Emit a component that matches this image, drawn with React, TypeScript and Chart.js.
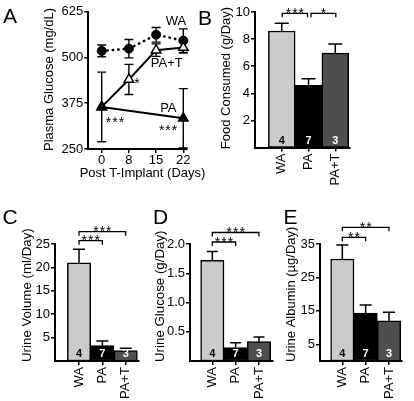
import React, { useEffect, useRef } from 'react';
import { Chart, registerables } from 'chart.js';

Chart.register(...registerables);

const FONT = '"Liberation Sans", Arial, Helvetica, sans-serif';
const W = 414;
const H = 401;

// ---------- Panel A: plasma glucose over time ----------
const daysA = ['0', '8', '15', '22'];
const dayIndexA = [0, 1, 2, 3];
const glucoseTicksA = [250, 375, 500, 625];
const waGlucose = [518, 524, 562, 546];
const waGlucoseSem = [16, 25, 20, 32];
const patGlucose = [365, 440, 520, 527];
const patGlucoseSem = [0, 41, 17, 15];
const paGlucoseIdx = [0, 3];
const paGlucose = [365, 334];
const paGlucoseSem = [95, 81];

// ---------- Panels B-E: group bars ----------
const groups = ['WA', 'PA', 'PA+T'];
const groupN = [4, 7, 3];
const groupColors = ['#cbcbcb', '#000000', '#4f4f4f'];
const numberColors = ['#000000', '#ffffff', '#ffffff'];

const foodConsumed = [8.6, 4.58, 6.97];
const foodSem = [0.57, 0.49, 0.66];
const foodTicks = [2, 4, 6, 8, 10];

const urineVolume = [21.0, 3.27, 2.2];
const urineVolumeSem = [2.9, 1.0, 0.5];
const urineVolumeTicks = [5, 10, 15, 20, 25];

const urineGlucose = [1.72, 0.23, 0.33];
const urineGlucoseSem = [0.15, 0.08, 0.08];
const urineGlucoseTicks = [0.5, 1.0, 1.5, 2.0];

const urineAlbumin = [30.5, 14.3, 12.0];
const urineAlbuminSem = [4.2, 2.45, 2.6];
const urineAlbuminTicks = [5, 15, 25, 35];

interface Area { left: number; top: number; right: number; bottom: number }
interface Bracket { from: number; to: number; text: string; dy: number; insetL?: number; insetR?: number }
interface YTitle { text: string; x: number; y: number; align: 'left' | 'center'; size: number }
interface BarSpec {
  values: number[];
  sem: number[];
  yMax: number;
  yTicks: number[];
  decimals: number;
  title: YTitle;
  area: Area;
  xMin: number;
  xMax: number;
  capW: number;
  brackets: Bracket[];
}

const axisGrid = {
  display: true,
  drawOnChartArea: false,
  drawTicks: true,
  tickLength: 4,
  color: '#000',
  lineWidth: 1.5,
  offset: false,
};
const axisBorder = { display: true, color: '#000', width: 2 };
const tickFont = { family: FONT, size: 13 };

function drawStars(ctx: CanvasRenderingContext2D, text: string, x: number, baseline: number) {
  ctx.save();
  ctx.font = `14px ${FONT}`;
  (ctx as any).letterSpacing = '1px';
  ctx.textAlign = 'center';
  ctx.textBaseline = 'alphabetic';
  ctx.fillStyle = '#000';
  ctx.fillText(text, x + 0.5, baseline);
  ctx.restore();
}

function drawYTitle(ctx: CanvasRenderingContext2D, t: YTitle) {
  ctx.save();
  ctx.translate(t.x, t.y);
  ctx.rotate(-Math.PI / 2);
  ctx.font = `${t.size}px ${FONT}`;
  ctx.fillStyle = '#000';
  ctx.textAlign = t.align;
  ctx.textBaseline = 'middle';
  ctx.fillText(t.text, 0, 0);
  ctx.restore();
}

function barDecor(spec: BarSpec) {
  return {
    id: 'barDecor',
    afterDatasetsDraw(chart: any) {
      const ctx: CanvasRenderingContext2D = chart.ctx;
      const xs = chart.scales.x;
      const ys = chart.scales.y;
      const meta = chart.getDatasetMeta(0);
      ctx.save();
      ctx.strokeStyle = '#000';
      ctx.lineWidth = 1.5;
      meta.data.forEach((bar: any, i: number) => {
        const x = bar.x;
        const yTop = bar.y;
        const yErr = ys.getPixelForValue(spec.values[i] + spec.sem[i]);
        ctx.beginPath();
        ctx.moveTo(x, yTop);
        ctx.lineTo(x, yErr);
        ctx.moveTo(x - spec.capW / 2, yErr);
        ctx.lineTo(x + spec.capW / 2, yErr);
        ctx.stroke();
        ctx.font = `bold 11px ${FONT}`;
        ctx.textAlign = 'center';
        ctx.textBaseline = 'middle';
        ctx.fillStyle = numberColors[i];
        ctx.fillText(String(groupN[i]), x, ys.bottom - 7);
      });
      ctx.lineWidth = 1.3;
      spec.brackets.forEach((b) => {
        const x1 = xs.getPixelForValue(b.from) + (b.insetL || 0);
        const x2 = xs.getPixelForValue(b.to) - (b.insetR || 0);
        const y = chart.chartArea.top + b.dy;
        ctx.beginPath();
        ctx.moveTo(x1, y + 4);
        ctx.lineTo(x1, y);
        ctx.lineTo(x2, y);
        ctx.lineTo(x2, y + 4);
        ctx.stroke();
        drawStars(ctx, b.text, (x1 + x2) / 2, y + 4.5);
      });
      ctx.restore();
      drawYTitle(ctx, spec.title);
    },
  };
}

function makeBarChart(canvas: HTMLCanvasElement, spec: BarSpec) {
  const yWidth = 36;
  const padLeft = spec.area.left - yWidth;
  return new Chart(canvas, {
    type: 'bar',
    data: {
      datasets: [
        {
          data: spec.values.map((v, i) => ({ x: i, y: v })),
          backgroundColor: groupColors,
          borderColor: '#000',
          borderWidth: 1.5,
          borderSkipped: false,
          barPercentage: 1,
          categoryPercentage: 1,
        } as any,
      ],
    },
    options: {
      responsive: false,
      animation: false,
      devicePixelRatio: 1,
      events: [],
      layout: { padding: { left: padLeft, top: spec.area.top, right: W - spec.area.right, bottom: 0 } },
      plugins: { legend: { display: false }, tooltip: { enabled: false } },
      scales: {
        x: {
          type: 'linear',
          min: spec.xMin,
          max: spec.xMax,
          offset: false,
          afterBuildTicks: (s: any) => {
            s.ticks = groups.map((_, i) => ({ value: i }));
          },
          afterFit: (s: any) => {
            s.height = H - spec.area.bottom;
          },
          ticks: {
            autoSkip: false,
            minRotation: 90,
            maxRotation: 90,
            padding: 2,
            color: '#000',
            font: tickFont,
            callback: (v: any) => groups[Math.round(Number(v))],
          },
          grid: axisGrid,
          border: axisBorder,
        },
        y: {
          type: 'linear',
          min: 0,
          max: spec.yMax,
          afterBuildTicks: (s: any) => {
            s.ticks = spec.yTicks.map((v) => ({ value: v }));
          },
          afterFit: (s: any) => {
            s.width = yWidth;
          },
          ticks: {
            padding: 1,
            color: '#000',
            font: tickFont,
            callback: (v: any) => Number(v).toFixed(spec.decimals),
          },
          grid: axisGrid,
          border: axisBorder,
        },
      },
    } as any,
    plugins: [barDecor(spec)],
  });
}

// annotations of panel A, in data units
const labelsA = [
  { text: 'WA', x: 2.73, y: 598 },
  { text: 'PA+T', x: 2.39, y: 484 },
  { text: 'PA', x: 2.45, y: 361 },
];
const starsA = [
  { text: '***', x: 0.49, y: 332 },
  { text: '***', x: 2.44, y: 311 },
  { text: '*', x: 1.3, y: 438 },
];

function makeLineChart(canvas: HTMLCanvasElement) {
  const area: Area = { left: 88.3, top: 11.7, right: 187, bottom: 149 };
  const yWidth = 40;
  const padLeft = area.left - yWidth;
  const scaleBottom = 178;
  const yTitle: YTitle = { text: 'Plasma Glucose (mg/dL)', x: 49, y: 79.5, align: 'center', size: 13 };
  const xTitle = { text: 'Post T-Implant (Days)', x: 142.5, y: 173, size: 13 };
  const errSeries = [
    { xs: dayIndexA, ys: waGlucose, sem: waGlucoseSem },
    { xs: dayIndexA, ys: patGlucose, sem: patGlucoseSem },
    { xs: paGlucoseIdx, ys: paGlucose, sem: paGlucoseSem },
  ];
  const decor = {
    id: 'lineDecor',
    beforeDatasetsDraw(chart: any) {
      const ctx: CanvasRenderingContext2D = chart.ctx;
      const xs = chart.scales.x;
      const ys = chart.scales.y;
      ctx.save();
      ctx.strokeStyle = '#000';
      ctx.lineWidth = 1.4;
      errSeries.forEach((s) => {
        s.xs.forEach((xi, i) => {
          if (!s.sem[i]) return;
          const x = xs.getPixelForValue(xi);
          const y1 = ys.getPixelForValue(s.ys[i] + s.sem[i]);
          const y2 = ys.getPixelForValue(s.ys[i] - s.sem[i]);
          ctx.beginPath();
          ctx.moveTo(x, y1);
          ctx.lineTo(x, y2);
          ctx.moveTo(x - 4.5, y1);
          ctx.lineTo(x + 4.5, y1);
          ctx.moveTo(x - 4.5, y2);
          ctx.lineTo(x + 4.5, y2);
          ctx.stroke();
        });
      });
      ctx.restore();
    },
    afterDatasetsDraw(chart: any) {
      const ctx: CanvasRenderingContext2D = chart.ctx;
      const xs = chart.scales.x;
      const ys = chart.scales.y;
      ctx.save();
      ctx.fillStyle = '#000';
      ctx.font = `13px ${FONT}`;
      ctx.textAlign = 'center';
      ctx.textBaseline = 'middle';
      labelsA.forEach((l) => {
        ctx.fillText(l.text, xs.getPixelForValue(l.x), ys.getPixelForValue(l.y));
      });
      ctx.font = `${xTitle.size}px ${FONT}`;
      ctx.fillText(xTitle.text, xTitle.x, xTitle.y);
      ctx.restore();
      starsA.forEach((s) => {
        drawStars(ctx, s.text, xs.getPixelForValue(s.x), ys.getPixelForValue(s.y) + 8);
      });
      drawYTitle(ctx, yTitle);
    },
  };
  return new Chart(canvas, {
    type: 'line',
    data: {
      datasets: [
        {
          label: 'PA',
          data: paGlucoseIdx.map((x, i) => ({ x, y: paGlucose[i] })),
          borderColor: '#000',
          borderWidth: 2,
          pointStyle: 'triangle',
          pointRadius: 5.5,
          pointBackgroundColor: '#000',
          pointBorderColor: '#000',
          pointBorderWidth: 1.5,
          clip: false,
        },
        {
          label: 'PA+T',
          data: dayIndexA.map((x, i) => ({ x, y: patGlucose[i] })),
          borderColor: '#000',
          borderWidth: 2,
          pointStyle: 'triangle',
          pointRadius: 5.5,
          pointBackgroundColor: '#fff',
          pointBorderColor: '#000',
          pointBorderWidth: 1.5,
          clip: false,
        },
        {
          label: 'WA',
          data: dayIndexA.map((x, i) => ({ x, y: waGlucose[i] })),
          borderColor: '#000',
          borderWidth: 2.5,
          borderDash: [0.5, 5],
          borderCapStyle: 'round',
          pointStyle: 'circle',
          pointRadius: 4.5,
          pointBackgroundColor: '#000',
          pointBorderColor: '#000',
          pointBorderWidth: 1,
          clip: false,
        },
      ] as any,
    },
    options: {
      responsive: false,
      animation: false,
      devicePixelRatio: 1,
      events: [],
      layout: { padding: { left: padLeft, top: area.top, right: W - area.right, bottom: H - scaleBottom } },
      plugins: { legend: { display: false }, tooltip: { enabled: false } },
      scales: {
        x: {
          type: 'linear',
          min: -0.493,
          max: 3.136,
          afterBuildTicks: (s: any) => {
            s.ticks = dayIndexA.map((v) => ({ value: v }));
          },
          afterFit: (s: any) => {
            s.height = scaleBottom - area.bottom;
          },
          ticks: {
            autoSkip: false,
            maxRotation: 0,
            padding: 0,
            color: '#000',
            font: tickFont,
            callback: (v: any) => daysA[Math.round(Number(v))],
          },
          grid: axisGrid,
          border: axisBorder,
        },
        y: {
          type: 'linear',
          min: 250,
          max: 625,
          afterBuildTicks: (s: any) => {
            s.ticks = glucoseTicksA.map((v) => ({ value: v }));
          },
          afterFit: (s: any) => {
            s.width = yWidth;
          },
          ticks: { padding: 1, color: '#000', font: tickFont },
          grid: axisGrid,
          border: axisBorder,
        },
      },
    } as any,
    plugins: [decor],
  });
}

const specB: BarSpec = {
  values: foodConsumed,
  sem: foodSem,
  yMax: 10,
  yTicks: foodTicks,
  decimals: 0,
  title: { text: 'Food Consumed (g/Day)', x: 226.5, y: 78, align: 'center', size: 13 },
  area: { left: 255, top: 12, right: 350, bottom: 147.5 },
  xMin: -1.0,
  xMax: 2.55,
  capW: 14,
  brackets: [
    { from: 0, to: 1, text: '***', dy: 1.3, insetL: 0.5, insetR: 1 },
    { from: 1, to: 2, text: '*', dy: 1.3, insetL: 2.5, insetR: -0.5 },
  ],
};

const specC: BarSpec = {
  values: urineVolume,
  sem: urineVolumeSem,
  yMax: 25,
  yTicks: urineVolumeTicks,
  decimals: 0,
  title: { text: 'Urine Volume (ml/Day)', x: 27.5, y: 362, align: 'left', size: 13.3 },
  area: { left: 55, top: 244, right: 139, bottom: 361 },
  xMin: -1.03,
  xMax: 2.57,
  capW: 12,
  brackets: [
    { from: 0, to: 1, text: '***', dy: -3.3 },
    { from: 0, to: 2, text: '***', dy: -12.3 },
  ],
};

const specD: BarSpec = {
  values: urineGlucose,
  sem: urineGlucoseSem,
  yMax: 2.0,
  yTicks: urineGlucoseTicks,
  decimals: 1,
  title: { text: 'Urine Glucose (g/Day)', x: 160.5, y: 362, align: 'left', size: 13.3 },
  area: { left: 190, top: 244, right: 273, bottom: 361 },
  xMin: -0.956,
  xMax: 2.6,
  capW: 11,
  brackets: [
    { from: 0, to: 1, text: '***', dy: -2 },
    { from: 0, to: 2, text: '***', dy: -11.5 },
  ],
};

const specE: BarSpec = {
  values: urineAlbumin,
  sem: urineAlbuminSem,
  yMax: 35,
  yTicks: urineAlbuminTicks,
  decimals: 0,
  title: { text: 'Urine Albumin (µg/Day)', x: 291, y: 362, align: 'left', size: 13 },
  area: { left: 320, top: 244, right: 402, bottom: 361 },
  xMin: -0.956,
  xMax: 2.557,
  capW: 12,
  brackets: [
    { from: 0, to: 1, text: '**', dy: -6.7 },
    { from: 0, to: 2, text: '**', dy: -16.7 },
  ],
};

const panelLetters = [
  { text: 'A', left: 3, top: 5.3 },
  { text: 'B', left: 198, top: 6.6 },
  { text: 'C', left: 2.5, top: 205.6 },
  { text: 'D', left: 153, top: 205.5 },
  { text: 'E', left: 283.5, top: 206 },
];

export default function App() {
  const refA = useRef<HTMLCanvasElement>(null);
  const refB = useRef<HTMLCanvasElement>(null);
  const refC = useRef<HTMLCanvasElement>(null);
  const refD = useRef<HTMLCanvasElement>(null);
  const refE = useRef<HTMLCanvasElement>(null);

  useEffect(() => {
    const charts: Chart[] = [];
    if (refA.current) charts.push(makeLineChart(refA.current));
    if (refB.current) charts.push(makeBarChart(refB.current, specB));
    if (refC.current) charts.push(makeBarChart(refC.current, specC));
    if (refD.current) charts.push(makeBarChart(refD.current, specD));
    if (refE.current) charts.push(makeBarChart(refE.current, specE));
    return () => charts.forEach((c) => c.destroy());
  }, []);

  const canvasStyle: React.CSSProperties = { position: 'absolute', left: 0, top: 0, width: W, height: H };
  return (
    <div style={{ position: 'fixed', left: 0, top: 0, width: W, height: H, background: '#fff', overflow: 'hidden' }}>
      {[refA, refB, refC, refD, refE].map((r, i) => (
        <canvas key={i} ref={r} width={W} height={H} style={canvasStyle} />
      ))}
      {panelLetters.map((l) => (
        <div
          key={l.text}
          style={{
            position: 'absolute',
            left: l.left,
            top: l.top,
            fontFamily: FONT,
            fontSize: 21,
            lineHeight: '21px',
            color: '#000',
          }}
        >
          {l.text}
        </div>
      ))}
    </div>
  );
}
